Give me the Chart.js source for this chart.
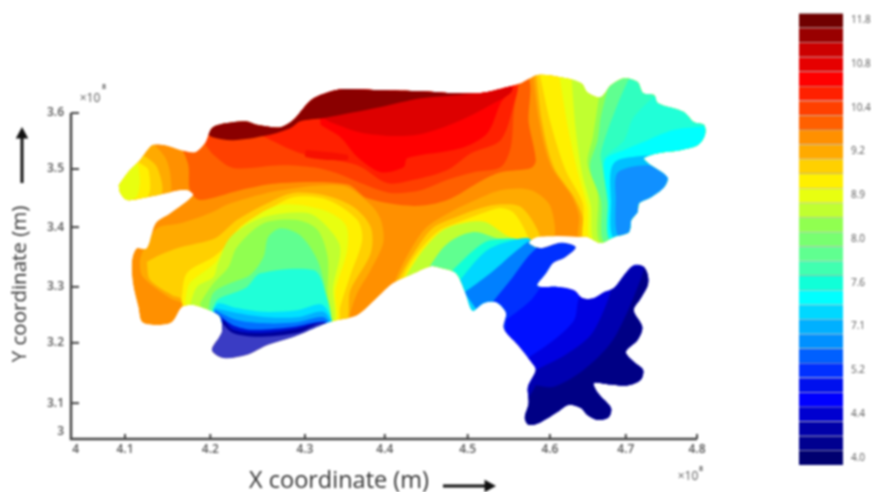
<!DOCTYPE html>
<html>
<head>
<meta charset="utf-8">
<style>
    html, body { margin: 0; padding: 0; background: #fff; }
    canvas { position: absolute; filter: blur(0.8px); }
    #mapChart { left: 0; top: 0; }
    #barChart { left: 780px; top: 0; }
</style>
<script src="https://cdn.jsdelivr.net/npm/chart.js@4/dist/chart.umd.min.js"></script>
</head>
<body>
<canvas id="mapChart" width="872" height="492"></canvas>
<canvas id="barChart" width="92" height="492"></canvas>
<script>
// axis ticks, as they sit on the (unevenly spaced) axes of the picture
const xTickValues = [4.006, 4.069, 4.178, 4.299, 4.401, 4.507, 4.612, 4.709, 4.8];
const xTickLabels = ['4', '4.1', '4.2', '4.3', '4.4', '4.5', '4.6', '4.7', '4.8'];
const yTickValues = [3.013, 3.066, 3.177, 3.28, 3.39, 3.497, 3.6];
const yTickLabels = ['3', '3.1', '3.2', '3.3', '3.4', '3.5', '3.6'];

// colour bar, top to bottom
const bandLabels = ['11.8', '', '', '10.8', '', '', '10.4', '', '', '9.2', '', '', '8.9', '', '', '8.0', '', '', '7.6', '', '', '7.1', '', '', '5.2', '', '', '4.4', '', '', '4.0'];
const bandWidths = [1, 1, 1, 1, 1, 1, 1, 1, 1, 1, 1, 1, 1, 1, 1, 1, 1, 1, 1, 1, 1, 1, 1, 1, 1, 1, 1, 1, 1, 1, 1];
const bandColors = ['#700000', '#990000', '#cc0000', '#e60000', '#ff0000', '#ff2000', '#ff4000', '#ff6000', '#ff9000', '#ffaa00', '#ffd000', '#fff000', '#e8ff10', '#c0ff30', '#90ff50', '#78ff70', '#60ff90', '#40ffb0', '#10ffd8', '#00ffff', '#00d8ff', '#00b0ff', '#0090ff', '#0060ff', '#0030ff', '#0010ee', '#0000ff', '#0000d0', '#0000a8', '#000090', '#000070'];

// outline of the mapped area, x and y in the axis units
const outline = [[4.061,3.467],[4.073,3.491],[4.088,3.513],[4.104,3.541],[4.12,3.541],[4.14,3.532],[4.159,3.528],[4.172,3.546],[4.18,3.572],[4.197,3.581],[4.223,3.585],[4.239,3.578],[4.268,3.574],[4.284,3.587],[4.297,3.609],[4.31,3.627],[4.328,3.638],[4.348,3.644],[4.396,3.642],[4.447,3.64],[4.481,3.637],[4.524,3.637],[4.558,3.648],[4.575,3.655],[4.596,3.67],[4.626,3.666],[4.652,3.655],[4.66,3.638],[4.677,3.629],[4.69,3.651],[4.707,3.664],[4.724,3.657],[4.731,3.637],[4.745,3.633],[4.75,3.618],[4.783,3.602],[4.796,3.583],[4.809,3.578],[4.81,3.559],[4.801,3.541],[4.78,3.532],[4.75,3.526],[4.732,3.517],[4.737,3.508],[4.762,3.482],[4.758,3.464],[4.741,3.445],[4.726,3.434],[4.724,3.418],[4.716,3.403],[4.713,3.381],[4.694,3.372],[4.677,3.361],[4.66,3.372],[4.648,3.372],[4.596,3.372],[4.585,3.361],[4.6,3.351],[4.626,3.361],[4.645,3.353],[4.63,3.333],[4.616,3.324],[4.607,3.305],[4.596,3.282],[4.622,3.28],[4.643,3.274],[4.654,3.259],[4.668,3.259],[4.681,3.27],[4.694,3.278],[4.707,3.302],[4.719,3.32],[4.731,3.318],[4.737,3.302],[4.737,3.283],[4.728,3.259],[4.719,3.237],[4.73,3.206],[4.724,3.182],[4.709,3.16],[4.719,3.142],[4.731,3.127],[4.728,3.109],[4.712,3.099],[4.686,3.101],[4.668,3.103],[4.673,3.085],[4.69,3.057],[4.687,3.04],[4.673,3.035],[4.66,3.044],[4.652,3.057],[4.636,3.063],[4.622,3.05],[4.6,3.031],[4.585,3.026],[4.58,3.039],[4.585,3.066],[4.584,3.096],[4.594,3.127],[4.588,3.142],[4.571,3.173],[4.553,3.204],[4.556,3.232],[4.543,3.252],[4.527,3.25],[4.513,3.236],[4.504,3.269],[4.492,3.305],[4.472,3.315],[4.46,3.318],[4.438,3.305],[4.412,3.287],[4.392,3.261],[4.366,3.228],[4.34,3.219],[4.325,3.213],[4.284,3.188],[4.251,3.173],[4.225,3.155],[4.195,3.149],[4.18,3.164],[4.193,3.197],[4.191,3.224],[4.182,3.234],[4.156,3.247],[4.142,3.243],[4.129,3.215],[4.11,3.21],[4.091,3.215],[4.086,3.243],[4.079,3.287],[4.078,3.329],[4.084,3.351],[4.097,3.351],[4.108,3.397],[4.127,3.416],[4.156,3.449],[4.148,3.458],[4.123,3.453],[4.097,3.445],[4.072,3.44],[4.063,3.453]];

// warm bands at the top of the map
const topOrange = [[4.14,3.541],[4.146,3.55],[4.178,3.587],[4.293,3.651],[4.579,3.67],[4.585,3.581],[4.594,3.513],[4.588,3.499],[4.549,3.491],[4.524,3.475],[4.481,3.44],[4.438,3.429],[4.379,3.443],[4.353,3.469],[4.268,3.471],[4.216,3.458],[4.165,3.44],[4.152,3.458],[4.15,3.504]];
const topRedOrange = [[4.172,3.541],[4.182,3.523],[4.207,3.499],[4.268,3.504],[4.31,3.5],[4.34,3.489],[4.37,3.471],[4.408,3.453],[4.447,3.458],[4.481,3.477],[4.515,3.491],[4.549,3.5],[4.562,3.537],[4.566,3.605],[4.571,3.642],[4.575,3.679],[4.293,3.679],[4.178,3.605]];
const topScarlet = [[4.244,3.558],[4.293,3.526],[4.366,3.504],[4.404,3.471],[4.438,3.477],[4.481,3.495],[4.511,3.526],[4.549,3.55],[4.566,3.618],[4.568,3.651],[4.293,3.651],[4.244,3.578]];
const topStripe = [[4.3,3.532],[4.353,3.523],[4.353,3.513],[4.3,3.519]];
const topRed = [[4.319,3.578],[4.344,3.556],[4.366,3.519],[4.396,3.491],[4.425,3.5],[4.43,3.517],[4.498,3.535],[4.532,3.563],[4.549,3.618],[4.564,3.651],[4.319,3.651]];
const topCrimson = [[4.287,3.591],[4.321,3.591],[4.332,3.583],[4.374,3.563],[4.438,3.559],[4.489,3.581],[4.54,3.618],[4.564,3.642],[4.549,3.67],[4.293,3.67]];
const topMaroon = [[4.172,3.565],[4.18,3.556],[4.207,3.55],[4.251,3.559],[4.28,3.572],[4.293,3.585],[4.323,3.591],[4.396,3.611],[4.447,3.627],[4.524,3.638],[4.556,3.651],[4.549,3.679],[4.178,3.679],[4.172,3.587]];

// left lobe
const lobeAmber = [[4.101,3.55],[4.12,3.519],[4.127,3.486],[4.124,3.445],[4.037,3.431],[4.037,3.55]];
const lobeGold = [[4.092,3.523],[4.11,3.5],[4.114,3.449],[4.037,3.431],[4.037,3.55]];
const lobeYellow = [[4.088,3.508],[4.099,3.495],[4.097,3.445],[4.037,3.44],[4.037,3.532]];
const lobeLime = [[4.086,3.504],[4.088,3.471],[4.082,3.443],[4.037,3.44],[4.037,3.532]];

// basin in the lower left, outer band first
const basinAmber = [[4.092,3.348],[4.11,3.388],[4.14,3.397],[4.178,3.416],[4.204,3.434],[4.268,3.458],[4.348,3.466],[4.383,3.431],[4.396,3.403],[4.399,3.361],[4.383,3.311],[4.366,3.269],[4.357,3.232],[4.353,3.201],[4.165,3.201],[4.146,3.247],[4.127,3.259],[4.092,3.298],[4.088,3.326]];
const basinGold = [[4.097,3.326],[4.114,3.339],[4.14,3.353],[4.165,3.361],[4.187,3.372],[4.212,3.403],[4.251,3.434],[4.284,3.453],[4.323,3.449],[4.361,3.427],[4.383,3.39],[4.383,3.342],[4.357,3.274],[4.348,3.21],[4.152,3.21],[4.143,3.256],[4.129,3.265],[4.101,3.293]];
const basinYellow = [[4.141,3.256],[4.148,3.305],[4.182,3.335],[4.195,3.351],[4.216,3.39],[4.246,3.416],[4.284,3.445],[4.328,3.44],[4.366,3.403],[4.372,3.366],[4.357,3.302],[4.344,3.243],[4.34,3.21],[4.152,3.21]];
const basinLime = [[4.146,3.256],[4.152,3.287],[4.184,3.324],[4.2,3.361],[4.225,3.399],[4.268,3.431],[4.323,3.421],[4.351,3.394],[4.353,3.348],[4.338,3.274],[4.335,3.21],[4.152,3.21]];
const basinYellowGreen = [[4.152,3.247],[4.161,3.28],[4.182,3.298],[4.188,3.324],[4.204,3.372],[4.246,3.408],[4.302,3.416],[4.323,3.397],[4.344,3.353],[4.335,3.28],[4.332,3.21],[4.165,3.21]];
const basinGreen = [[4.165,3.25],[4.18,3.283],[4.201,3.316],[4.212,3.353],[4.246,3.397],[4.289,3.403],[4.315,3.385],[4.328,3.335],[4.328,3.274],[4.328,3.21],[4.172,3.21]];
const basinMint = [[4.175,3.234],[4.182,3.269],[4.204,3.287],[4.229,3.302],[4.246,3.335],[4.252,3.372],[4.268,3.388],[4.293,3.375],[4.315,3.329],[4.325,3.274],[4.328,3.21],[4.178,3.21]];
const basinTurquoise = [[4.178,3.228],[4.187,3.256],[4.21,3.27],[4.225,3.28],[4.242,3.305],[4.31,3.311],[4.323,3.28],[4.328,3.21],[4.18,3.21]];
const basinCyan = [[4.182,3.237],[4.188,3.25],[4.212,3.241],[4.246,3.234],[4.289,3.237],[4.321,3.247],[4.332,3.21],[4.18,3.21]];
const basinSky = [[4.183,3.241],[4.212,3.232],[4.251,3.224],[4.289,3.224],[4.323,3.234],[4.332,3.201],[4.18,3.201]];
const basinAzure = [[4.184,3.237],[4.212,3.219],[4.251,3.213],[4.289,3.215],[4.323,3.224],[4.332,3.201],[4.18,3.201]];
const basinBlue = [[4.184,3.234],[4.206,3.21],[4.233,3.201],[4.284,3.206],[4.325,3.215],[4.332,3.191],[4.18,3.191]];
const basinNavy = [[4.195,3.219],[4.207,3.201],[4.238,3.195],[4.284,3.201],[4.325,3.213],[4.332,3.182],[4.191,3.182]];
const basinViolet = [[4.193,3.213],[4.207,3.195],[4.238,3.188],[4.289,3.195],[4.324,3.212],[4.344,3.164],[4.165,3.136],[4.172,3.191]];

// valley in the middle right
const valleyAmber = [[4.412,3.285],[4.428,3.333],[4.453,3.388],[4.485,3.418],[4.517,3.44],[4.549,3.458],[4.588,3.458],[4.613,3.427],[4.613,3.357],[4.472,3.265]];
const valleyGold = [[4.415,3.285],[4.434,3.333],[4.462,3.388],[4.495,3.41],[4.524,3.425],[4.549,3.432],[4.575,3.427],[4.598,3.379],[4.6,3.339],[4.472,3.265]];
const valleyYellow = [[4.419,3.283],[4.438,3.333],[4.468,3.381],[4.502,3.403],[4.53,3.418],[4.549,3.425],[4.566,3.416],[4.584,3.372],[4.588,3.339],[4.472,3.265]];
const valleyLime = [[4.421,3.283],[4.447,3.342],[4.476,3.385],[4.507,3.399],[4.53,3.399],[4.556,3.375],[4.581,3.357],[4.581,3.311],[4.472,3.265]];
const valleyMint = [[4.457,3.315],[4.476,3.353],[4.494,3.372],[4.517,3.381],[4.543,3.37],[4.568,3.361],[4.575,3.311],[4.485,3.274]];
const valleyTurquoise = [[4.485,3.307],[4.515,3.348],[4.536,3.366],[4.581,3.361],[4.581,3.256],[4.511,3.237]];
const valleyCyan = [[4.495,3.289],[4.527,3.342],[4.553,3.361],[4.588,3.366],[4.588,3.256],[4.517,3.228]];
const valleyAzure = [[4.502,3.269],[4.536,3.305],[4.575,3.353],[4.594,3.366],[4.626,3.256],[4.536,3.219]];
const valleyBlue = [[4.536,3.247],[4.562,3.293],[4.588,3.342],[4.613,3.366],[4.664,3.348],[4.588,3.201],[4.549,3.182]];

// blue arcs in the south east
const arcBlue = [[4.556,3.219],[4.588,3.256],[4.607,3.293],[4.645,3.348],[4.664,3.366],[4.805,3.256],[4.805,3],[4.549,3]];
const arcDeep = [[4.584,3.149],[4.617,3.182],[4.643,3.219],[4.649,3.259],[4.664,3.293],[4.805,3.311],[4.805,3],[4.562,3]];
const arcDark = [[4.594,3.127],[4.632,3.155],[4.664,3.191],[4.681,3.237],[4.69,3.274],[4.696,3.311],[4.805,3.311],[4.805,3],[4.562,3]];
const arcNavy = [[4.594,3.099],[4.617,3.096],[4.655,3.127],[4.69,3.177],[4.712,3.237],[4.728,3.293],[4.74,3.33],[4.805,3.33],[4.805,3],[4.562,3]];

// bands running north-south on the right
const eastAmber = [[4.59,3.679],[4.598,3.587],[4.613,3.504],[4.639,3.449],[4.649,3.412],[4.652,3.357],[4.831,3.357],[4.831,3.679]];
const eastGold = [[4.594,3.679],[4.602,3.583],[4.617,3.5],[4.643,3.445],[4.654,3.408],[4.657,3.357],[4.831,3.357],[4.831,3.679]];
const eastYellow = [[4.598,3.679],[4.613,3.581],[4.632,3.495],[4.654,3.434],[4.66,3.357],[4.831,3.357],[4.831,3.679]];
const eastLime = [[4.623,3.679],[4.635,3.574],[4.648,3.489],[4.66,3.427],[4.668,3.357],[4.831,3.357],[4.831,3.679]];
const eastYellowGreen = [[4.639,3.679],[4.645,3.569],[4.653,3.489],[4.664,3.431],[4.673,3.357],[4.831,3.357],[4.831,3.679]];
const eastGreen = [[4.677,3.651],[4.667,3.556],[4.66,3.508],[4.673,3.453],[4.68,3.357],[4.831,3.357],[4.831,3.651]];
const eastMint = [[4.692,3.679],[4.677,3.592],[4.673,3.55],[4.663,3.5],[4.677,3.44],[4.685,3.357],[4.831,3.357],[4.831,3.679]];
const eastSea = [[4.718,3.679],[4.699,3.618],[4.677,3.526],[4.68,3.495],[4.686,3.434],[4.692,3.357],[4.831,3.357],[4.831,3.679]];
const eastTurquoise = [[4.76,3.651],[4.719,3.592],[4.707,3.55],[4.681,3.513],[4.69,3.434],[4.696,3.357],[4.831,3.357],[4.831,3.651]];
const eastCyan = [[4.831,3.578],[4.771,3.569],[4.737,3.55],[4.707,3.532],[4.682,3.513],[4.686,3.44],[4.691,3.366],[4.78,3.366],[4.831,3.513]];
const eastSky = [[4.741,3.523],[4.694,3.508],[4.69,3.44],[4.696,3.366],[4.78,3.366],[4.78,3.523]];
const eastAzure = [[4.78,3.495],[4.735,3.504],[4.699,3.491],[4.696,3.449],[4.703,3.366],[4.78,3.366]];

// painted in this order, each one over the last
const layers = [
    [outline, '#ff9000'],
    [topOrange, '#ff6000'], [topRedOrange, '#ff4000'], [topScarlet, '#ff2000'], [topStripe, '#f81000'],
    [topRed, '#ff0000'], [topCrimson, '#dd0000'], [topMaroon, '#8a0000'],
    [lobeAmber, '#ffaa00'], [lobeGold, '#ffd000'], [lobeYellow, '#fff000'], [lobeLime, '#e8ff10'],
    [basinAmber, '#ffaa00'], [basinGold, '#ffd000'], [basinYellow, '#fff000'], [basinLime, '#e8ff10'],
    [basinYellowGreen, '#c0ff30'], [basinGreen, '#90ff50'], [basinMint, '#60ff90'], [basinTurquoise, '#20ffd8'],
    [basinCyan, '#00e0ff'], [basinSky, '#00b0ff'], [basinAzure, '#0070ff'], [basinBlue, '#0010d0'],
    [basinNavy, '#00009a'], [basinViolet, '#3a3cc4'],
    [valleyAmber, '#ffaa00'], [valleyGold, '#ffd000'], [valleyYellow, '#fff000'], [valleyLime, '#c0ff30'],
    [valleyMint, '#60ff90'], [valleyTurquoise, '#10ffd8'], [valleyCyan, '#00d8ff'], [valleyAzure, '#0080ff'],
    [valleyBlue, '#0030ff'],
    [arcBlue, '#0010ff'], [arcDeep, '#0000e0'], [arcDark, '#0000b0'], [arcNavy, '#000085'],
    [eastAmber, '#ffaa00'], [eastGold, '#ffd000'], [eastYellow, '#fff000'], [eastLime, '#e8ff10'],
    [eastYellowGreen, '#c0ff30'], [eastGreen, '#90ff50'], [eastMint, '#60ff90'], [eastSea, '#30ffc0'],
    [eastTurquoise, '#20ffd8'], [eastCyan, '#00ffff'], [eastSky, '#00c0ff'], [eastAzure, '#1090ff']
];

// keeps every band inside the outline (dataset 0)
const clipToOutline = {
    id: 'clipToOutline',
    beforeDatasetsDraw(chart) {
        const ctx = chart.ctx;
        ctx.save();
        ctx.beginPath();
        chart.getDatasetMeta(0).dataset.path(ctx);
        ctx.closePath();
        ctx.clip();
    },
    afterDatasetsDraw(chart) {
        chart.ctx.restore();
    }
};

function drawArrow(ctx, x1, y1, x2, y2) {
    const a = Math.atan2(y2 - y1, x2 - x1);
    ctx.strokeStyle = '#111';
    ctx.fillStyle = '#111';
    ctx.lineWidth = 3;
    ctx.beginPath();
    ctx.moveTo(x1, y1);
    ctx.lineTo(x2 - 8 * Math.cos(a), y2 - 8 * Math.sin(a));
    ctx.stroke();
    ctx.beginPath();
    ctx.moveTo(x2, y2);
    ctx.lineTo(x2 - 13 * Math.cos(a - 0.5), y2 - 13 * Math.sin(a - 0.5));
    ctx.lineTo(x2 - 13 * Math.cos(a + 0.5), y2 - 13 * Math.sin(a + 0.5));
    ctx.closePath();
    ctx.fill();
}

// axis lines stop at 3.6 and 4.8 while the map runs past them, so they are drawn here
const axisDecor = {
    id: 'axisDecor',
    afterDraw(chart) {
        const ctx = chart.ctx;
        const x = chart.scales.x;
        const y = chart.scales.y;
        const x0 = x.getPixelForValue(4);
        const y0 = y.getPixelForValue(3);
        ctx.save();
        ctx.strokeStyle = '#444';
        ctx.lineWidth = 2.5;
        ctx.beginPath();
        ctx.moveTo(x0, y.getPixelForValue(3.6));
        ctx.lineTo(x0, y0);
        ctx.lineTo(x.getPixelForValue(4.8), y0);
        ctx.stroke();
        ctx.lineWidth = 2;
        yTickValues.slice(1).forEach(v => {
            const p = y.getPixelForValue(v);
            ctx.beginPath();
            ctx.moveTo(x0, p);
            ctx.lineTo(x0 + 8, p);
            ctx.stroke();
        });
        xTickValues.slice(1).forEach(v => {
            const p = x.getPixelForValue(v);
            ctx.beginPath();
            ctx.moveTo(p, y0);
            ctx.lineTo(p, y0 - 5);
            ctx.stroke();
        });

        ctx.fillStyle = '#333';
        ctx.textAlign = 'center';
        ctx.textBaseline = 'middle';
        ctx.font = '23.5px "Open Sans"';
        ctx.fillText('X coordinate (m)', 339, 481);
        ctx.font = '20.5px "Open Sans"';
        ctx.save();
        ctx.translate(20, 284);
        ctx.rotate(-Math.PI / 2);
        ctx.fillText('Y coordinate (m)', 0, 0);
        ctx.restore();

        ctx.fillStyle = '#555';
        ctx.font = '12px "Open Sans"';
        ctx.fillText('×10', 90, 99);
        ctx.fillText('×10', 688, 477);
        ctx.font = 'bold 7px "Open Sans"';
        ctx.fillText('8', 104, 87);
        ctx.fillText('8', 701, 469);

        drawArrow(ctx, 22, 183, 22, 127);
        drawArrow(ctx, 443, 486, 496, 486);
        ctx.restore();
    }
};

new Chart(document.getElementById('mapChart').getContext('2d'), {
    type: 'scatter',
    data: {
        datasets: layers.map((layer, i) => ({
            data: layer[0].concat([layer[0][0]]).map(p => ({ x: p[0], y: p[1] })),
            showLine: true,
            fill: 'shape',
            backgroundColor: layer[1],
            borderWidth: 0,
            pointRadius: 0,
            tension: 0.3,
            order: layers.length - i
        }))
    },
    options: {
        responsive: false,
        animation: false,
        layout: { padding: { top: 58.7, right: 159.35, left: 0, bottom: 0 } },
        plugins: { legend: { display: false }, tooltip: { enabled: false } },
        scales: {
            x: {
                type: 'linear',
                min: 4,
                max: 4.82,
                grid: { display: false, drawTicks: false },
                border: { display: false },
                afterBuildTicks: axis => { axis.ticks = xTickValues.map(v => ({ value: v })); },
                afterFit: axis => { axis.height = 53; axis.paddingLeft = 0; axis.paddingRight = 0; },
                ticks: {
                    autoSkip: false,
                    maxRotation: 0,
                    padding: 3,
                    color: '#555',
                    font: { family: 'Open Sans', size: 12, weight: '600' },
                    callback: (v, i) => xTickLabels[i]
                }
            },
            y: {
                type: 'linear',
                min: 3,
                max: 3.7,
                grid: { display: false, drawTicks: false },
                border: { display: false },
                afterBuildTicks: axis => { axis.ticks = yTickValues.map(v => ({ value: v })); },
                afterFit: axis => { axis.width = 71; axis.paddingTop = 0; axis.paddingBottom = 0; },
                ticks: {
                    autoSkip: false,
                    padding: 7,
                    color: '#555',
                    font: { family: 'Open Sans', size: 12, weight: '600' },
                    callback: (v, i) => yTickLabels[i]
                }
            }
        }
    },
    plugins: [clipToOutline, axisDecor]
});

new Chart(document.getElementById('barChart').getContext('2d'), {
    type: 'bar',
    data: {
        labels: bandLabels,
        datasets: [{
            data: bandWidths,
            backgroundColor: bandColors,
            borderColor: 'rgba(0, 0, 0, 0.22)',
            borderWidth: { top: 1 },
            barPercentage: 1,
            categoryPercentage: 1
        }]
    },
    options: {
        indexAxis: 'y',
        responsive: false,
        animation: false,
        layout: { padding: { left: 19, top: 13, bottom: 27, right: 0 } },
        plugins: { legend: { display: false }, tooltip: { enabled: false } },
        scales: {
            x: { display: false, min: 0, max: 1 },
            y: {
                position: 'right',
                grid: { display: false, drawTicks: false },
                border: { display: false },
                afterFit: axis => { axis.width = 29; axis.paddingTop = 0; axis.paddingBottom = 0; },
                ticks: {
                    autoSkip: false,
                    padding: 8,
                    color: '#555',
                    font: { family: 'Open Sans', size: 10 }
                }
            }
        }
    }
});
</script>
</body>
</html>
